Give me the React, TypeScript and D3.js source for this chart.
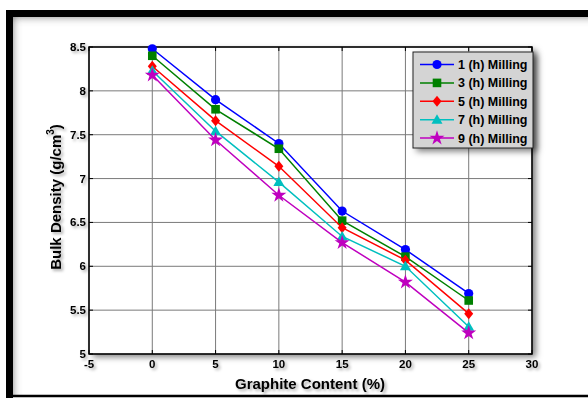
import React from "react";
import * as d3 from "d3";

const xValues = [0, 5, 10, 15, 20, 25];
const seriesNames = ["1 (h) Milling", "3 (h) Milling", "5 (h) Milling", "7 (h) Milling", "9 (h) Milling"];
const s1 = [8.48, 7.9, 7.4, 6.63, 6.19, 5.69];
const s3 = [8.4, 7.79, 7.34, 6.52, 6.11, 5.61];
const s5 = [8.28, 7.66, 7.14, 6.44, 6.07, 5.46];
const s7 = [8.23, 7.54, 6.96, 6.34, 6.0, 5.31];
const s9 = [8.18, 7.44, 6.81, 6.27, 5.82, 5.24];
const seriesValues = [s1, s3, s5, s7, s9];
const colors = ["#0000ff", "#008000", "#ff0000", "#00bfbf", "#bf00bf"];
const xTicks = [-5, 0, 5, 10, 15, 20, 25, 30];
const yTicks = [5, 5.5, 6, 6.5, 7, 7.5, 8, 8.5];

const W = 588, H = 398;
const L = 89, R = 532, T = 47, B = 354;

function Marker({ i, x, y, c }: { i: number; x: number; y: number; c: string }) {
  if (i === 0) return <circle cx={x} cy={y} r={4.6} fill={c} />;
  if (i === 1) return <rect x={x - 4.3} y={y - 4.3} width={8.6} height={8.6} fill={c} />;
  if (i === 2) return <path d={`M${x},${y - 5.5}L${x + 4.5},${y}L${x},${y + 5.5}L${x - 4.5},${y}Z`} fill={c} />;
  if (i === 3) return <path d={`M${x},${y - 5.5}L${x + 5.5},${y + 4}L${x - 5.5},${y + 4}Z`} fill={c} />;
  const p = d3.symbol(d3.symbolStar, 70)() as string;
  return <path d={p} transform={`translate(${x},${y})`} fill={c} />;
}

export default function App() {
  const x = d3.scaleLinear().domain([-5, 30]).range([L, R]);
  const y = d3.scaleLinear().domain([5, 8.5]).range([B, T]);
  const line = d3.line<number>().x((_, j) => x(xValues[j])).y((d) => y(d));
  const font = "'Liberation Sans', Arial, sans-serif";
  const lx = 413, ly = 52, lw = 120, lh = 96;
  return (
    <svg width={W} height={H} style={{ position: "absolute", left: 0, top: 0 }} fontFamily={font}>
      <defs>
        <filter id="sh" x="-10%" y="-10%" width="130%" height="130%">
          <feDropShadow dx="4" dy="3" stdDeviation="3" floodColor="#000" floodOpacity="0.5" />
        </filter>
        <filter id="tsh" x="-20%" y="-40%" width="150%" height="200%">
          <feDropShadow dx="2" dy="2" stdDeviation="1.5" floodColor="#000" floodOpacity="0.35" />
        </filter>
        <filter id="inner">
          <feGaussianBlur stdDeviation="5" />
        </filter>
        <clipPath id="frameClip">
          <rect x={13} y={17} width={W} height={378} />
        </clipPath>
      </defs>
      <rect width={W} height={H} fill="#fff" />
      {/* outer frame */}
      <g clipPath="url(#frameClip)">
        <rect x={6} y={10} width={W + 20} height={400} fill="none" stroke="#666" strokeWidth={12} filter="url(#inner)" />
      </g>
      <path d={`M${W},13.5H9.5V398`} fill="none" stroke="#000" strokeWidth={7} />
      <line x1={6} x2={W} y1={396} y2={396} stroke="#000" strokeWidth={2.5} />
      {/* plot area */}
      <rect x={L} y={T} width={R - L} height={B - T} fill="#fff" filter="url(#sh)" />
      {xTicks.map((t) => (
        <line key={"gx" + t} x1={x(t)} x2={x(t)} y1={T} y2={B} stroke="#7a7a7a" strokeWidth={1} />
      ))}
      {yTicks.map((t) => (
        <line key={"gy" + t} x1={L} x2={R} y1={y(t)} y2={y(t)} stroke="#7a7a7a" strokeWidth={1} />
      ))}
      <rect x={L} y={T} width={R - L} height={B - T} fill="none" stroke="#000" strokeWidth={1.5} />
      {xTicks.map((t) => (
        <g key={"tx" + t}>
          <line x1={x(t)} x2={x(t)} y1={B} y2={B - 4} stroke="#000" />
          <line x1={x(t)} x2={x(t)} y1={T} y2={T + 4} stroke="#000" />
        </g>
      ))}
      {yTicks.map((t) => (
        <g key={"ty" + t}>
          <line x1={L} x2={L + 4} y1={y(t)} y2={y(t)} stroke="#000" />
          <line x1={R} x2={R - 4} y1={y(t)} y2={y(t)} stroke="#000" />
        </g>
      ))}
      {/* series */}
      {seriesValues.map((vals, i) => (
        <g key={"s" + i}>
          <path d={line(vals) as string} fill="none" stroke={colors[i]} strokeWidth={1.5} />
          {vals.map((v, j) => (
            <Marker key={j} i={i} x={x(xValues[j])} y={y(v)} c={colors[i]} />
          ))}
        </g>
      ))}
      {/* tick labels */}
      <g filter="url(#tsh)" fontWeight="bold" fontSize={11.5} fill="#000">
        {xTicks.map((t) => (
          <text key={"lx" + t} x={x(t)} y={B + 14} textAnchor="middle">{t}</text>
        ))}
        {yTicks.map((t) => (
          <text key={"ly" + t} x={L - 3} y={y(t) + 4} textAnchor="end">{t}</text>
        ))}
        <text x={310} y={389} textAnchor="middle" fontSize={15}>Graphite Content (%)</text>
        <text transform={`translate(61,${197}) rotate(-90)`} textAnchor="middle" fontSize={15}>
          Bulk Density (g/cm<tspan dy={-7} fontSize={10}>3</tspan><tspan dy={7}>)</tspan>
        </text>
      </g>
      {/* legend */}
      <rect x={lx} y={ly} width={lw} height={lh} fill="#d4d4d4" stroke="#222" strokeWidth={1} filter="url(#sh)" />
      {seriesNames.map((n, i) => {
        const yy = ly + 12.5 + i * 18.4;
        return (
          <g key={"lg" + i}>
            <line x1={420} x2={454} y1={yy} y2={yy} stroke={colors[i]} strokeWidth={1.5} />
            <Marker i={i} x={437} y={yy} c={colors[i]} />
            <text x={458} y={yy + 4.5} fontWeight="bold" fontSize={12.5} fill="#000">{n}</text>
          </g>
        );
      })}
    </svg>
  );
}
